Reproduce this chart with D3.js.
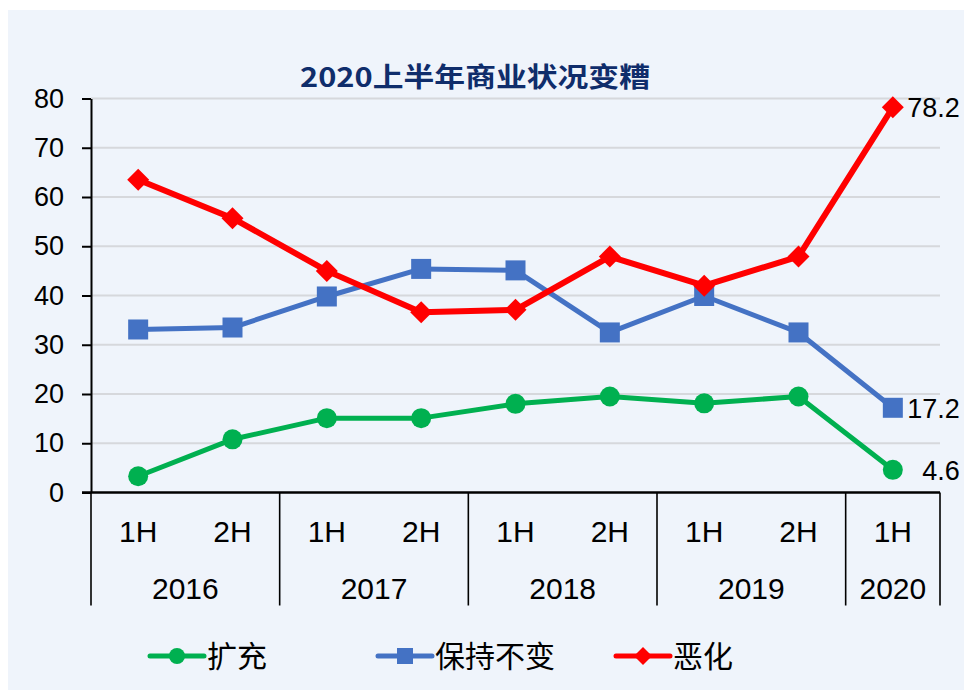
<!DOCTYPE html>
<html>
<head>
<meta charset="utf-8">
<script src="https://cdn.jsdelivr.net/npm/d3@7"></script>
<style>
  body { margin: 0; background: #fff; }
  svg { display: block; }
</style>
</head>
<body>
<svg id="chart"></svg>
<script>
// Categories (half-years) and their year groups
const halves = ['1H', '2H', '1H', '2H', '1H', '2H', '1H', '2H', '1H'];
const years = ['2016', '2016', '2017', '2017', '2018', '2018', '2019', '2019', '2020'];
const yTicks = [0, 10, 20, 30, 40, 50, 60, 70, 80];

// Series values
const expand = [3.3, 10.8, 15.1, 15.1, 18.0, 19.5, 18.1, 19.5, 4.6];
const unchanged = [33.1, 33.5, 39.8, 45.4, 45.1, 32.5, 39.9, 32.5, 17.2];
const worse = [63.5, 55.7, 45.0, 36.6, 37.1, 47.9, 42.0, 47.9, 78.2];

const seriesNames = ['扩充', '保持不变', '恶化'];
const seriesColors = ['#00B050', '#4472C4', '#FF0000'];
const seriesShapes = ['circle', 'square', 'diamond'];

const W = 964, H = 690;
const margin = {top: 98.5, right: 24, bottom: 197.5, left: 91};
const width = W - margin.left - margin.right;
const height = H - margin.top - margin.bottom;

const svg = d3.select('#chart').attr('width', W).attr('height', H);

// Background panel
svg.append('rect')
    .attr('x', 8).attr('y', 10)
    .attr('width', W - 8).attr('height', H - 10)
    .attr('fill', '#EFF4FB');

// Title
svg.append('text')
    .attr('x', 300).attr('y', 87)
    .attr('textLength', 350)
    .attr('lengthAdjust', 'spacingAndGlyphs')
    .style('font-family', '"Noto Sans CJK SC", sans-serif')
    .style('font-weight', 'bold')
    .style('font-size', '27px')
    .attr('fill', '#0F2D6B')
    .text('2020上半年商业状况变糟');

const g = svg.append('g').attr('transform', `translate(${margin.left},${margin.top})`);

const idx = d3.range(halves.length);
const x = d3.scaleBand().domain(idx).range([0, width]);
const y = d3.scaleLinear().domain([0, 80]).range([height, 0]);
const cx = i => x(i) + x.bandwidth() / 2;

// Grid lines
g.selectAll('.grid')
    .data(yTicks.filter(d => d > 0))
    .enter().append('line')
    .attr('x1', 0).attr('x2', width)
    .attr('y1', d => y(d)).attr('y2', d => y(d))
    .attr('stroke', '#D6D8DC')
    .attr('stroke-width', 2);

// Y axis
const yAxis = g.append('g')
    .call(d3.axisLeft(y).tickValues(yTicks).tickSize(9).tickSizeOuter(0).tickPadding(18));
yAxis.select('.domain').attr('stroke', '#000').attr('stroke-width', 2);
yAxis.selectAll('.tick line').attr('stroke', '#000').attr('stroke-width', 2);
yAxis.selectAll('.tick text')
    .style('font-family', '"Liberation Sans", Arial, sans-serif')
    .style('font-size', '27px')
    .attr('fill', '#000');

// X axis line
g.append('line')
    .attr('x1', -9).attr('x2', width)
    .attr('y1', height).attr('y2', height)
    .attr('stroke', '#000').attr('stroke-width', 2.5);

// Year group separators
const yearGroups = d3.groups(idx, i => years[i]);
const sepBottom = 113;
const bounds = [0].concat(yearGroups.map(([, arr]) => x(arr[arr.length - 1]) + x.bandwidth()));
g.selectAll('.sep')
    .data(bounds)
    .enter().append('line')
    .attr('x1', d => d).attr('x2', d => d)
    .attr('y1', height).attr('y2', height + sepBottom)
    .attr('stroke', '#000').attr('stroke-width', 1.6);

// Half-year labels
g.selectAll('.half')
    .data(idx)
    .enter().append('text')
    .attr('x', i => cx(i))
    .attr('y', height + 38.5)
    .attr('dy', '0.35em')
    .attr('text-anchor', 'middle')
    .style('font-family', '"Liberation Sans", Arial, sans-serif')
    .style('font-size', '30px')
    .text(i => halves[i]);

// Year labels
g.selectAll('.year')
    .data(yearGroups)
    .enter().append('text')
    .attr('x', ([, arr]) => (x(arr[0]) + x(arr[arr.length - 1]) + x.bandwidth()) / 2)
    .attr('y', height + 95.5)
    .attr('dy', '0.35em')
    .attr('text-anchor', 'middle')
    .style('font-family', '"Liberation Sans", Arial, sans-serif')
    .style('font-size', '30px')
    .text(([yr]) => yr);

// Marker drawing helper
function drawMarker(sel, shape, color, size) {
    if (shape === 'circle') {
        sel.append('circle').attr('r', size / 2).attr('fill', color);
    } else if (shape === 'square') {
        sel.append('rect')
            .attr('x', -size / 2).attr('y', -size / 2)
            .attr('width', size).attr('height', size)
            .attr('fill', color);
    } else {
        const s = size / 2 + 1;
        sel.append('path')
            .attr('d', `M0,${-s}L${s},0L0,${s}L${-s},0Z`)
            .attr('fill', color);
    }
}

// Lines and markers
const allSeries = [expand, unchanged, worse];
const line = d3.line().x((d, i) => cx(i)).y(d => y(d));

allSeries.forEach((values, k) => {
    g.append('path')
        .datum(values)
        .attr('d', line)
        .attr('fill', 'none')
        .attr('stroke', seriesColors[k])
        .attr('stroke-width', k === 2 ? 6 : 5)
        .attr('stroke-linejoin', 'round');

    g.selectAll('.m' + k)
        .data(values)
        .enter().append('g')
        .attr('transform', (d, i) => `translate(${cx(i)},${y(d)})`)
        .each(function() { drawMarker(d3.select(this), seriesShapes[k], seriesColors[k], 20); });
});

// End labels on last point
const last = idx.length - 1;
allSeries.forEach(values => {
    g.append('text')
        .attr('x', cx(last) + 67)
        .attr('y', y(values[last]))
        .attr('dy', '0.36em')
        .attr('text-anchor', 'end')
        .style('font-family', '"Liberation Sans", Arial, sans-serif')
        .style('font-size', '27px')
        .text(values[last]);
});

// Legend
const legendX = [150, 378, 616];
const legendY = 656;
seriesNames.forEach((name, k) => {
    const lg = svg.append('g').attr('transform', `translate(${legendX[k]},${legendY})`);
    lg.append('line')
        .attr('x1', 0).attr('x2', 54)
        .attr('stroke', seriesColors[k])
        .attr('stroke-width', 5)
        .attr('stroke-linecap', 'round');
    const mk = lg.append('g').attr('transform', 'translate(27,0)');
    drawMarker(mk, seriesShapes[k], seriesColors[k], 16);
    lg.append('text')
        .attr('x', 57)
        .attr('dy', '0.36em')
        .style('font-family', '"Noto Sans CJK SC", sans-serif')
        .style('font-size', '30px')
        .text(name);
});
</script>
</body>
</html>
